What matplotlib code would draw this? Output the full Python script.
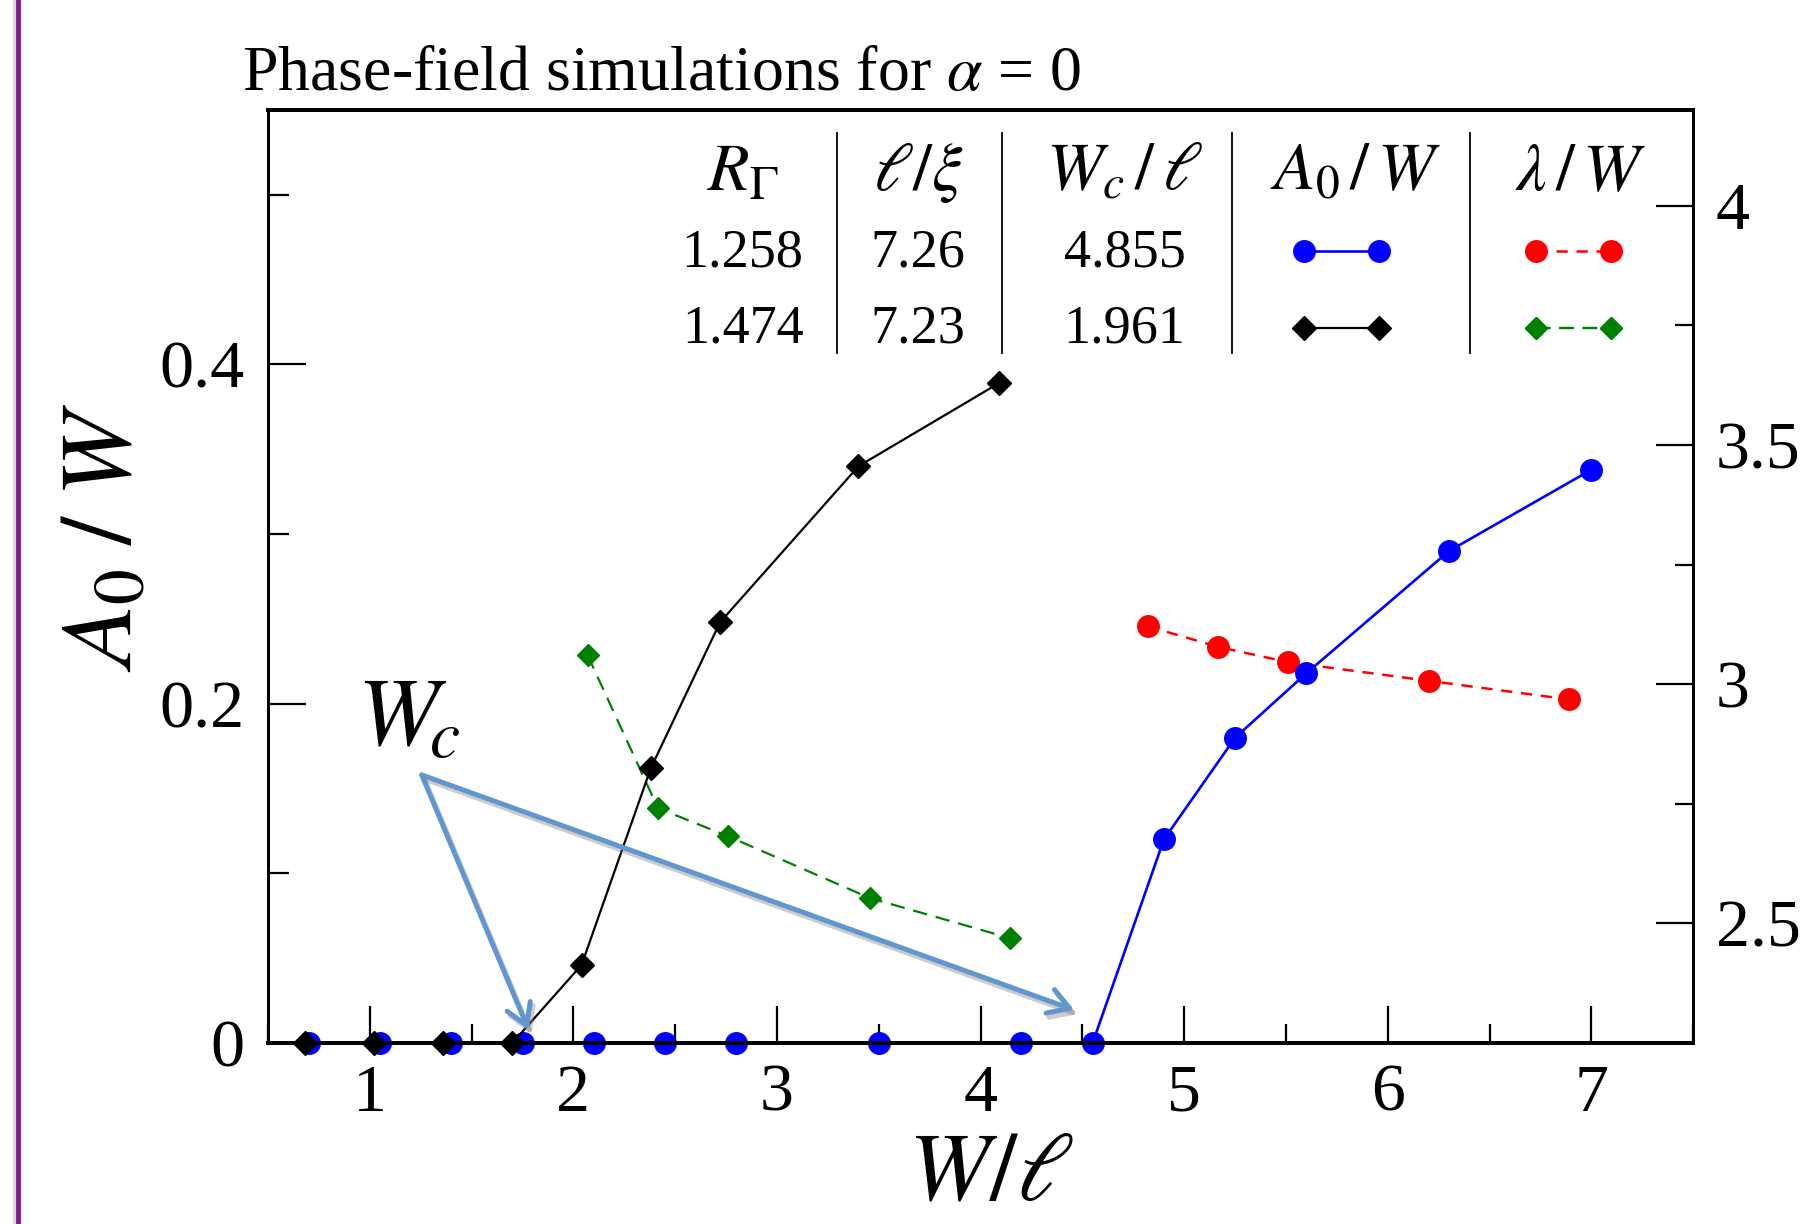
import numpy as np
import matplotlib
matplotlib.use("Agg")
import matplotlib.pyplot as plt
import matplotlib.patheffects as pe
from matplotlib.lines import Line2D
from matplotlib.ticker import MultipleLocator, FuncFormatter

plt.rcParams['font.family'] = ['Liberation Serif', 'DejaVu Serif']
plt.rcParams['mathtext.fontset'] = 'stix'

# A0/W (left axis)
blue_x = [0.70, 1.05, 1.40, 1.75, 2.10, 2.45, 2.80, 3.50, 4.20, 4.55, 4.90, 5.25, 5.60, 6.30, 7.00]
blue_y = [0, 0, 0, 0, 0, 0, 0, 0, 0, 0, 0.120, 0.180, 0.218, 0.290, 0.338]
black_x = [0.68, 1.02, 1.36, 1.70, 2.04, 2.38, 2.72, 3.40, 4.09]
black_y = [0, 0, 0, 0, 0.046, 0.162, 0.248, 0.340, 0.389]

# lambda/W (right axis)
red_x = [4.82, 5.165, 5.51, 6.20, 6.89]
red_y = [3.121, 3.078, 3.046, 3.007, 2.968]
green_x = [2.07, 2.415, 2.76, 3.455, 4.145]
green_y = [3.060, 2.741, 2.682, 2.553, 2.469]

# table in the upper right
col_heads = [r'$R_\Gamma$', r'$\ell/\xi$', r'$W_c\,/\,\ell$', r'$A_0\,/\,W$', r'$\lambda\,/\,W$']
row1 = ['1.258', '7.26', '4.855']
row2 = ['1.474', '7.23', '1.961']

# W_c arrows: start and the two tips, in data units
wc_start = (1.255, 0.158)
wc_tips = [(1.78, 0.0076), (4.46, 0.0194)]

fmt = FuncFormatter(lambda v, p: f'{v:g}')

fig = plt.figure(figsize=(18.11, 12.24), dpi=100)
ax = fig.add_axes([0.148, 0.1479, 0.787, 0.7622])
ax2 = ax.twinx()
ax.set_zorder(ax2.get_zorder() + 1)
ax.patch.set_visible(False)

ax2.plot(red_x, red_y, color='red', ls=(0, (4.5, 3.5)), lw=1.8, marker='o', ms=15.5)
ax2.plot(green_x, green_y, color='green', ls=(0, (6.5, 4)), lw=1.6, marker='D', ms=11.5)
ax.plot(blue_x, blue_y, color='blue', lw=1.9, marker='o', ms=15.5, clip_on=False)
ax.plot(black_x, black_y, color='black', lw=1.6, marker='D', ms=12, clip_on=False)

ax.set_xlim(0.5, 7.5)
ax.set_ylim(0, 0.55)
ax2.set_ylim(2.25, 4.2)

ax.xaxis.set_major_locator(MultipleLocator(1))
ax.xaxis.set_minor_locator(MultipleLocator(0.5))
ax.yaxis.set_major_locator(MultipleLocator(0.2))
ax.yaxis.set_minor_locator(MultipleLocator(0.1))
ax2.yaxis.set_major_locator(MultipleLocator(0.5))
ax2.yaxis.set_minor_locator(MultipleLocator(0.25))
ax.yaxis.set_major_formatter(fmt)
ax2.yaxis.set_major_formatter(fmt)
ax.set_xticks([1, 2, 3, 4, 5, 6, 7])

ax.tick_params(axis='x', which='both', direction='in', top=False, width=1.6, labelsize=49, pad=15)
ax.tick_params(axis='x', which='major', length=27)
ax.tick_params(axis='x', which='minor', length=14)
ax.tick_params(axis='y', which='both', direction='in', right=False, width=1.6, labelsize=49, pad=17)
ax.tick_params(axis='y', which='major', length=27)
ax.tick_params(axis='y', which='minor', length=15)
ax2.tick_params(axis='y', which='both', direction='in', left=False, width=1.6, labelsize=49, pad=16)
ax2.tick_params(axis='y', which='major', length=27)
ax2.tick_params(axis='y', which='minor', length=13)

for a in (ax, ax2):
    a.spines['top'].set_linewidth(2.8)
    a.spines['bottom'].set_linewidth(2.8)
    a.spines['left'].set_linewidth(2.0)
    a.spines['right'].set_linewidth(2.0)

ax.set_xlabel(r'$W/\ell$', fontsize=70)
ax.xaxis.set_label_coords(0.507, -0.095)
ax.set_ylabel(r'$A_0\;/\;W$', fontsize=73)
ax.yaxis.set_label_coords(-0.081, 0.542)

# W_c annotation with shadowed arrows
ax.text(0.936, 0.175, r'$W_{\!c}$', fontsize=70, ha='left', va='baseline')
for tip in wc_tips:
    ax.annotate('', xy=tip, xytext=wc_start,
                arrowprops=dict(arrowstyle='->, head_length=0.5, head_width=0.3',
                                color='#6296cf', lw=3.6, shrinkA=0, shrinkB=0,
                                mutation_scale=30,
                                path_effects=[pe.SimpleLineShadow(offset=(2, -3), shadow_color='gray', alpha=0.4),
                                              pe.Normal()]))

# table
col_x = [0.333, 0.456, 0.601, 0.763, 0.921]
for cx, h in zip(col_x, col_heads):
    ax.text(cx, 0.932, h, transform=ax.transAxes, fontsize=49, ha='center', va='center')
for cx, v1, v2 in zip(col_x, row1, row2):
    ax.text(cx, 0.847, v1, transform=ax.transAxes, fontsize=39, ha='center', va='center')
    ax.text(cx, 0.765, v2, transform=ax.transAxes, fontsize=39, ha='center', va='center')
for sx in [0.399, 0.515, 0.6765, 0.843]:
    ax.plot([sx, sx], [0.7395, 0.975], transform=ax.transAxes, color='black', lw=1.3)

legend_handles = [
    (ax.get_lines()[0], 0.753, 0.847),
    (ax.get_lines()[1], 0.753, 0.765),
    (ax2.get_lines()[0], 0.916, 0.847),
    (ax2.get_lines()[1], 0.916, 0.765),
]
for h, cx, cy in legend_handles:
    leg = ax.legend([h], [''], loc='center', bbox_to_anchor=(cx, cy), bbox_transform=ax.transAxes,
                    frameon=False, fontsize=10, handlelength=6.0, handletextpad=0, borderpad=0,
                    borderaxespad=0, numpoints=2)
    ax.add_artist(leg)

fig.text(242 / 1811, 1 - 90 / 1224, r'Phase-field simulations for $\alpha$ = 0', fontsize=46,
         ha='left', va='baseline')

fig.add_artist(Line2D([0.0097, 0.0097], [0, 1], transform=fig.transFigure, color='#7d1f8a', lw=3.5,
                      path_effects=[pe.SimpleLineShadow(offset=(-2, 0), shadow_color='gray', alpha=0.3), pe.Normal()]))

fig.savefig('out.png', dpi=100)
